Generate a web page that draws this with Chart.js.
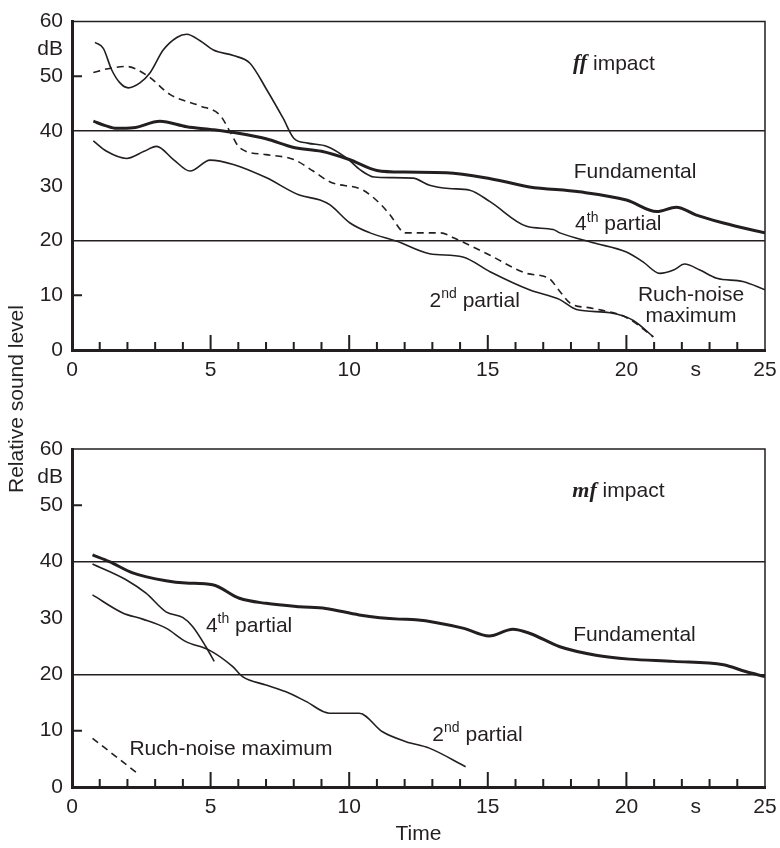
<!DOCTYPE html>
<html>
<head>
<meta charset="utf-8">
<script src="https://cdn.jsdelivr.net/npm/chart.js@4.4.1/dist/chart.umd.min.js"></script>
<style>
body{margin:0;background:#fff;width:780px;height:848px;position:relative;overflow:hidden}
canvas{position:absolute;left:0}
#ytitle{position:absolute;left:16px;top:399px;transform:translate(-50%,-50%) rotate(-90deg);font:21px "Liberation Sans",Arial,sans-serif;color:#231f20;white-space:nowrap}
</style>
</head>
<body>
<canvas id="ffChart" width="780" height="400" style="top:0"></canvas>
<canvas id="mfChart" width="780" height="428" style="top:420px"></canvas>
<div id="ytitle">Relative sound level</div>
<script>
// ff impact (top panel): time in s, level in dB
var ffFundT  = [0.77, 1.2, 1.61, 2.21, 3.17, 4.14, 5.0, 6.0, 7.0, 8.0, 9.0, 10.0, 11.0, 12.0, 13.5, 15.1, 16.5, 18.3, 20.0, 21.1, 21.8, 22.5, 23.5, 25.0];
var ffFundDb = [41.8, 41.0, 40.5, 40.6, 41.8, 40.8, 40.3, 39.6, 38.6, 37.0, 36.3, 34.8, 32.8, 32.5, 32.4, 31.3, 29.8, 28.9, 27.4, 25.3, 26.1, 24.7, 23.2, 21.4];

var ff4thT  = [0.83, 1.13, 1.43, 1.73, 2.03, 2.45, 2.81, 3.29, 3.78, 4.14, 4.62, 5.1, 5.82, 6.42, 7.02, 7.62, 8.0, 8.5, 9.2, 9.9, 10.4, 10.9, 11.5, 12.3, 12.9, 13.6, 14.35, 15.08, 16.4, 17.36, 17.6, 18.8, 20.0, 20.6, 21.2, 21.7, 22.1, 22.65, 23.26, 24.2, 25.0];
var ff4thDb = [56.2, 55.1, 51.2, 48.8, 47.9, 48.8, 50.6, 54.8, 57.1, 57.7, 56.5, 54.8, 53.8, 52.4, 47.6, 42.3, 38.7, 37.8, 37.2, 35.1, 32.9, 31.6, 31.5, 31.4, 30.1, 29.5, 29.2, 27.1, 22.6, 22.0, 21.4, 19.6, 17.9, 16.1, 14.0, 14.6, 15.7, 14.6, 13.1, 12.5, 11.0];

var ff2ndT  = [0.77, 1.25, 1.97, 2.6, 3.05, 3.66, 4.26, 4.98, 5.82, 7.0, 8.2, 8.95, 9.31, 10.03, 10.75, 11.7, 12.9, 14.1, 15.08, 16.5, 17.6, 18.2, 19.4, 20.25, 20.97];
var ff2ndDb = [38.2, 36.3, 35.0, 36.3, 37.2, 34.8, 32.7, 34.7, 33.9, 31.5, 28.3, 27.4, 26.5, 23.2, 21.4, 19.9, 17.6, 17.0, 14.3, 11.0, 9.2, 7.4, 6.8, 5.4, 2.4];

var ffNoiseT  = [0.77, 1.3, 1.97, 2.75, 3.53, 4.62, 5.34, 5.7, 6.06, 7.0, 8.0, 8.7, 9.31, 10.5, 11.1, 11.47, 11.9, 12.0, 13.3, 13.76, 15.08, 16.4, 17.2, 17.6, 17.96, 18.8, 20.0, 20.97];
var ffNoiseDb = [50.7, 51.4, 51.8, 50.0, 46.7, 44.6, 42.9, 39.9, 36.9, 35.7, 34.8, 32.7, 30.7, 29.2, 26.8, 24.7, 21.7, 21.4, 21.4, 20.5, 17.3, 14.0, 13.1, 10.7, 8.6, 7.6, 5.95, 2.4];

// mf impact (bottom panel)
var mfFundT  = [0.74, 1.35, 2.19, 3.39, 4.11, 5.07, 6.04, 7.0, 8.2, 9.15, 10.36, 11.8, 12.4, 14.1, 15.05, 15.9, 16.5, 17.6, 18.9, 20.1, 21.7, 23.5, 24.3, 25.0];
var mfFundDb = [41.2, 40.0, 38.0, 36.6, 36.2, 35.9, 33.5, 32.6, 32.0, 31.7, 30.55, 29.8, 29.7, 28.2, 26.8, 28.0, 27.3, 24.9, 23.4, 22.7, 22.3, 21.7, 20.5, 19.6];

var mf4thT  = [0.74, 1.95, 2.67, 3.39, 3.99, 4.35, 4.83, 5.13];
var mf4thDb = [39.6, 36.8, 34.4, 31.1, 30.1, 28.5, 24.9, 22.3];

var mf2ndT  = [0.74, 1.83, 2.55, 3.39, 4.11, 4.95, 5.79, 6.15, 7.0, 7.72, 8.44, 9.28, 10.36, 11.2, 12.05, 12.89, 14.2];
var mf2ndDb = [34.1, 30.9, 29.8, 28.2, 25.8, 24.3, 21.4, 19.6, 18.1, 16.9, 15.2, 13.1, 13.1, 9.8, 8.05, 6.9, 3.6];

var mfNoiseT  = [0.74, 2.37];
var mfNoiseDb = [8.65, 2.4];

// axis ticks
var xTickValues = [0, 5, 10, 15, 20, 22.5, 25];
var xTickLabels = ['0', '5', '10', '15', '20', 's', '25'];
var yTickValues = [0, 10, 20, 30, 40, 50, 55, 60];
var yTickLabels = ['0', '10', '20', '30', '40', '50', 'dB', '60'];

var INK = '#231f20';
var SANS = '"Liberation Sans", Arial, sans-serif';
var F_TEXT = '21px ' + SANS;
var F_SUP = '14px ' + SANS;
var F_DYN = 'bold italic 22px "Liberation Serif", "Times New Roman", serif';

function pts(t, v) {
    return t.map(function (x, i) { return { x: x, y: v[i] }; });
}

function series(t, v, width, dashed) {
    return {
        data: pts(t, v),
        borderColor: INK,
        borderWidth: width,
        borderDash: dashed ? [7, 5] : [],
        pointRadius: 0,
        fill: false,
        cubicInterpolationMode: 'monotone'
    };
}

function drawRuns(ctx, x, y, runs, center) {
    ctx.textBaseline = 'middle';
    ctx.textAlign = 'left';
    ctx.fillStyle = INK;
    if (center) {
        var w = 0;
        runs.forEach(function (r) { ctx.font = r.font; w += ctx.measureText(r.text).width; });
        x -= w / 2;
    }
    runs.forEach(function (r) {
        ctx.font = r.font;
        ctx.fillText(r.text, x, y + (r.dy || 0));
        x += ctx.measureText(r.text).width;
    });
}

// frame, inner tick marks and curve labels
var decorPlugin = {
    id: 'decor',
    afterDraw: function (chart, args, opts) {
        var ctx = chart.ctx, a = chart.chartArea;
        var xs = chart.scales.x, ys = chart.scales.y;
        ctx.save();
        ctx.strokeStyle = INK;
        ctx.lineWidth = 1.5;
        ctx.beginPath();
        ctx.moveTo(a.left, a.top); ctx.lineTo(a.right, a.top); ctx.lineTo(a.right, a.bottom);
        ctx.stroke();
        ctx.lineWidth = 2;
        ctx.beginPath();
        for (var t = 1; t < 25; t++) {
            var px = xs.getPixelForValue(t);
            ctx.moveTo(px, a.bottom);
            ctx.lineTo(px, a.bottom - (t % 5 === 0 ? 15 : 8));
        }
        [10, 50].forEach(function (v) {
            var py = ys.getPixelForValue(v);
            ctx.moveTo(a.left, py);
            ctx.lineTo(a.left + 10, py);
        });
        ctx.stroke();
        opts.labels.forEach(function (l) {
            drawRuns(ctx, xs.getPixelForValue(l.t), ys.getPixelForValue(l.v), l.runs, l.center);
        });
        ctx.restore();
    }
};

function makeChart(id, datasets, labels, padTop, xHeight, showTitle) {
    return new Chart(document.getElementById(id), {
        type: 'line',
        data: { datasets: datasets },
        plugins: [decorPlugin],
        options: {
            responsive: false,
            animation: false,
            layout: { padding: { top: padTop, right: 15, left: 0, bottom: 0 } },
            plugins: {
                legend: { display: false },
                tooltip: { enabled: false },
                decor: { labels: labels }
            },
            scales: {
                x: {
                    type: 'linear', min: 0, max: 25,
                    afterBuildTicks: function (s) { s.ticks = xTickValues.map(function (v) { return { value: v }; }); },
                    afterFit: function (s) { s.height = xHeight; },
                    ticks: {
                        autoSkip: false, maxRotation: 0, padding: 0, color: INK,
                        font: { family: SANS, size: 21 },
                        callback: function (v) { return xTickLabels[xTickValues.indexOf(v)]; }
                    },
                    grid: { display: false },
                    border: { display: true, color: INK, width: 3 },
                    title: {
                        display: showTitle, text: 'Time', color: INK,
                        font: { family: SANS, size: 21 }, padding: { top: 0, bottom: 1 }
                    }
                },
                y: {
                    min: 0, max: 60,
                    afterBuildTicks: function (s) { s.ticks = yTickValues.map(function (v) { return { value: v }; }); },
                    afterFit: function (s) { s.width = 72; },
                    ticks: {
                        autoSkip: false, padding: 9, color: INK,
                        font: { family: SANS, size: 21 },
                        callback: function (v) { return yTickLabels[yTickValues.indexOf(v)]; }
                    },
                    grid: {
                        drawTicks: false,
                        lineWidth: 1.5,
                        color: function (c) { return (c.tick && (c.tick.value === 20 || c.tick.value === 40)) ? INK : 'rgba(0,0,0,0)'; }
                    },
                    border: { display: true, color: INK, width: 3 }
                }
            }
        }
    });
}

function partial(num, sup) {
    return [{ text: num, font: F_TEXT }, { text: sup, font: F_SUP, dy: -7 }, { text: ' partial', font: F_TEXT }];
}

var ffLabels = [
    { t: 18.07, v: 52.3, runs: [{ text: 'ff', font: F_DYN }, { text: ' impact', font: F_TEXT }] },
    { t: 18.1, v: 32.5, runs: [{ text: 'Fundamental', font: F_TEXT }] },
    { t: 18.15, v: 22.9, runs: partial('4', 'th') },
    { t: 12.9, v: 8.9, runs: partial('2', 'nd') },
    { t: 22.33, v: 10.0, runs: [{ text: 'Ruch-noise', font: F_TEXT }], center: true },
    { t: 22.33, v: 6.1, runs: [{ text: 'maximum', font: F_TEXT }], center: true }
];

var mfLabels = [
    { t: 18.05, v: 52.5, runs: [{ text: 'mf', font: F_DYN }, { text: ' impact', font: F_TEXT }] },
    { t: 4.83, v: 28.5, runs: partial('4', 'th') },
    { t: 18.08, v: 27.0, runs: [{ text: 'Fundamental', font: F_TEXT }] },
    { t: 2.07, v: 6.7, runs: [{ text: 'Ruch-noise maximum', font: F_TEXT }] },
    { t: 13.0, v: 9.2, runs: partial('2', 'nd') }
];

var ffChart = makeChart('ffChart', [
    series(ffFundT, ffFundDb, 3, false),
    series(ff4thT, ff4thDb, 1.6, false),
    series(ff2ndT, ff2ndDb, 1.6, false),
    series(ffNoiseT, ffNoiseDb, 1.6, true)
], ffLabels, 14, 50, false);

var mfChart = makeChart('mfChart', [
    series(mfFundT, mfFundDb, 3, false),
    series(mf4thT, mf4thDb, 1.6, false),
    series(mf2ndT, mf2ndDb, 1.6, false),
    series(mfNoiseT, mfNoiseDb, 1.6, true)
], mfLabels, 29, 61, true);
</script>
</body>
</html>
